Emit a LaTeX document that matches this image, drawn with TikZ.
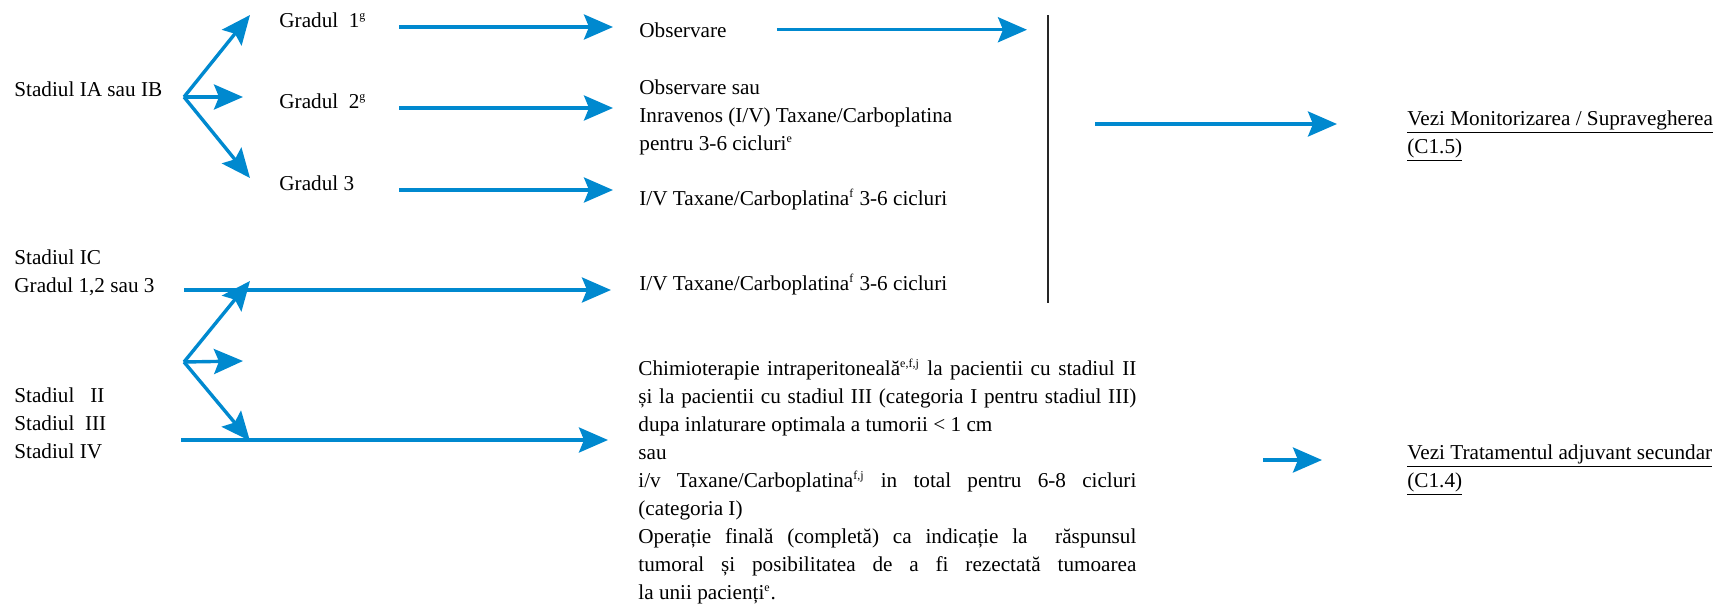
\documentclass[tikz,border=0pt]{standalone}
\usepackage{fontspec}
\setmainfont{Liberation Serif}
\usetikzlibrary{positioning, arrows.meta}
\definecolor{flowblue}{RGB}{0,137,207}
\newcommand{\sus}[1]{\textsuperscript{\fontsize{6}{6}\selectfont #1}}

\begin{document}
\begin{tikzpicture}[x=0.5pt, y=-0.5pt, font=\fontsize{10.6}{14}\selectfont]
	\tikzstyle{txt} = [inner sep=0pt, anchor=base west, align=left]
	\tikzstyle{arrow} = [draw=flowblue, line width=1.7pt, -{Stealth[length=14.5pt, width=12.5pt, inset=2.5pt]}]
	\tikzstyle{rule} = [draw=black!85, line width=1pt]

	\useasboundingbox (0,0) rectangle (1731,605);

	% stadii si grade (base = ultimul rand)
	\node [txt] (sIA) at (14,97) {Stadiul IA sau IB};
	\node [txt] (g1) at (279,27) {Gradul\ \ 1\sus{g}};
	\node [txt] (g2) at (279,108) {Gradul\ \ 2\sus{g}};
	\node [txt] (g3) at (279,190) {Gradul 3};
	\node [txt] (sIC) at (14,292) {Stadiul IC\\Gradul 1,2 sau 3};
	\node [txt] (sII) at (14,458) {Stadiul\ \ \ II\\Stadiul\ \ III\\Stadiul IV};

	% tratamente
	\node [txt] (obs) at (639,37) {Observare};
	\node [txt] (obsiv) at (639,150) {Observare sau\\Inravenos (I/V) Taxane/Carboplatina\\pentru 3-6 cicluri\sus{e}};
	\node [txt] (iv1) at (639,205) {I/V Taxane/Carboplatina\sus{f} 3-6 cicluri};
	\node [txt] (iv2) at (639,290) {I/V Taxane/Carboplatina\sus{f} 3-6 cicluri};
	\node [txt, text width=249pt, align=justify] (chimio) at (638,375) {Chimioterapie intraperitoneală\sus{e,f,j} la pacientii cu stadiul II\linebreak
		și la pacientii cu stadiul III (categoria I pentru stadiul III)\linebreak
		dupa inlaturare optimala a tumorii < 1 cm\par
		sau\par
		i/v Taxane/Carboplatina\sus{f,j} in total pentru 6-8 cicluri\linebreak
		(categoria I)\par
		Operație finală (completă) ca indicație la\ \ răspunsul\linebreak
		tumoral și posibilitatea de a fi rezectată tumoarea\linebreak
		la unii pacienți\sus{e}.};

	% trimiteri
	\node [txt] (monit) at (1407,153) {\underline{Vezi Monitorizarea / Supravegherea}\\\underline{(C1.5)}};
	\node [txt] (trat) at (1407,487) {\underline{Vezi Tratamentul adjuvant secundar}\\\underline{(C1.4)}};

	\coordinate (forkA) at (184,97);
	\coordinate (tA1) at (250,15);
	\coordinate (tA2) at (243,97);
	\coordinate (tA3) at (250,178);
	\coordinate (forkB) at (184,362);
	\coordinate (tB1) at (250,281);
	\coordinate (tB2) at (243,361);
	\coordinate (tB3) at (250,441);
	\coordinate (lowS) at (181,440);
	\coordinate (colS) at (399,0);
	\coordinate (vtop) at (1048,15);
	\coordinate (vbot) at (1048,303);
	\coordinate (vmid) at (vtop |- monit.base);

	\draw [arrow] (forkA) -- (tA1);
	\draw [arrow] (forkA) -- (tA2);
	\draw [arrow] (forkA) -- (tA3);
	\draw [arrow, shorten >=13pt] (g1.base -| colS) -- (g1.base -| obs.west);
	\draw [arrow, shorten >=13pt] (g2.base -| colS) -- (g2.base -| obsiv.west);
	\draw [arrow, shorten >=13pt] (g3.base -| colS) -- (g3.base -| iv1.west);
	\draw [arrow, shorten >=10.5pt] ([xshift=25pt]obs.east) -- (obs.east -| vtop);

	\draw [arrow, shorten >=14pt] (forkB |- iv2.base) -- (iv2.base west);
	\draw [arrow, shorten >=15pt] (lowS) -- (lowS -| chimio.west);
	\draw [arrow] (forkB) -- (tB1);
	\draw [arrow] (forkB) -- (tB2);
	\draw [arrow] (forkB) -- (tB3);

	\draw [rule] (vtop) -- (vbot);
	\draw [arrow] ([xshift=23.5pt, yshift=14.5pt]vmid) -- ([xshift=-35pt, yshift=14.5pt]monit.base west);
	\draw [arrow] ([xshift=-72pt, yshift=13.5pt]trat.base west) -- ([xshift=-42.5pt, yshift=13.5pt]trat.base west);
\end{tikzpicture}
\end{document}
